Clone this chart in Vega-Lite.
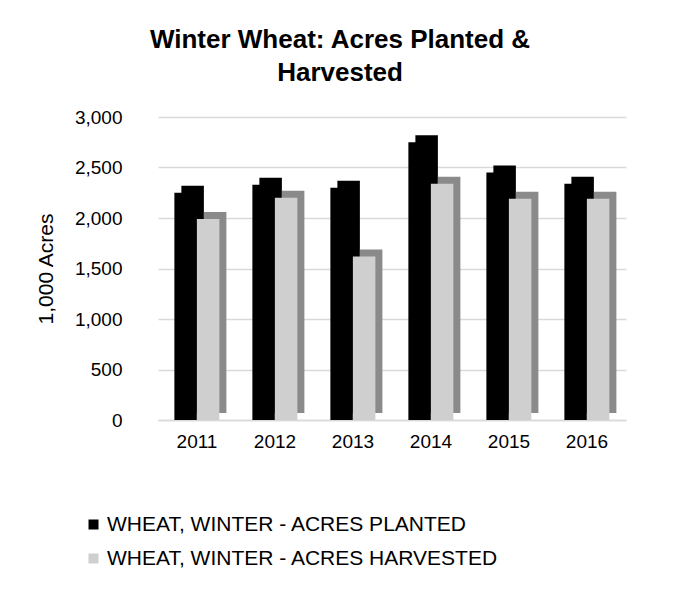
{
  "$schema": "https://vega.github.io/schema/vega-lite/v6.json",
  "autosize": "none",
  "width": 468,
  "height": 303,
  "padding": {"left": 158, "top": 117, "right": 50, "bottom": 172},
  "background": "white",
  "config": {
    "view": {"stroke": null},
    "font": "Liberation Sans"
  },
  "title": {
    "text": ["Winter Wheat: Acres Planted &", "Harvested"],
    "anchor": "middle",
    "frame": "group",
    "dx": -52,
    "offset": 22,
    "fontSize": 26,
    "fontWeight": "bold",
    "font": "Liberation Sans",
    "color": "#000000",
    "lineHeight": 33
  },
  "data": {
    "values": [
      {"year": "2011", "series": "WHEAT, WINTER - ACRES PLANTED", "acres": 2250},
      {"year": "2011", "series": "WHEAT, WINTER - ACRES HARVESTED", "acres": 1990},
      {"year": "2012", "series": "WHEAT, WINTER - ACRES PLANTED", "acres": 2330},
      {"year": "2012", "series": "WHEAT, WINTER - ACRES HARVESTED", "acres": 2200},
      {"year": "2013", "series": "WHEAT, WINTER - ACRES PLANTED", "acres": 2300},
      {"year": "2013", "series": "WHEAT, WINTER - ACRES HARVESTED", "acres": 1620},
      {"year": "2014", "series": "WHEAT, WINTER - ACRES PLANTED", "acres": 2750},
      {"year": "2014", "series": "WHEAT, WINTER - ACRES HARVESTED", "acres": 2340},
      {"year": "2015", "series": "WHEAT, WINTER - ACRES PLANTED", "acres": 2450},
      {"year": "2015", "series": "WHEAT, WINTER - ACRES HARVESTED", "acres": 2190},
      {"year": "2016", "series": "WHEAT, WINTER - ACRES PLANTED", "acres": 2340},
      {"year": "2016", "series": "WHEAT, WINTER - ACRES HARVESTED", "acres": 2190}
    ]
  },
  "encoding": {
    "x": {
      "field": "year",
      "type": "nominal",
      "scale": {"paddingInner": 0.42, "paddingOuter": 0.21},
      "axis": {
        "title": null,
        "labelAngle": 0,
        "labelFontSize": 19,
        "labelColor": "#000000",
        "labelPadding": 12,
        "ticks": false,
        "domain": true,
        "domainColor": "#d9d9d9",
        "domainWidth": 1.5
      }
    },
    "y": {
      "field": "acres",
      "type": "quantitative",
      "scale": {"domain": [0, 3000]},
      "axis": {
        "title": "1,000 Acres",
        "titleFontSize": 21,
        "titleFontWeight": "normal",
        "titleColor": "#000000",
        "titlePadding": 18,
        "values": [0, 500, 1000, 1500, 2000, 2500, 3000],
        "format": ",d",
        "labelFontSize": 19,
        "labelColor": "#000000",
        "labelPadding": 36,
        "ticks": false,
        "domain": false,
        "grid": true,
        "gridColor": "#d9d9d9",
        "gridWidth": 1.5
      }
    }
  },
  "layer": [
    {
      "mark": {"type": "bar", "yOffset": -7, "y2Offset": -7},
      "encoding": {
        "xOffset": {
          "field": "series",
          "type": "nominal",
          "sort": ["WHEAT, WINTER - ACRES PLANTED", "WHEAT, WINTER - ACRES HARVESTED"],
          "scale": {"range": [7, 52]}
        },
        "color": {
          "field": "series",
          "type": "nominal",
          "scale": {
            "domain": ["WHEAT, WINTER - ACRES PLANTED", "WHEAT, WINTER - ACRES HARVESTED"],
            "range": ["#000000", "#8a8a8a"]
          },
          "legend": null
        }
      }
    },
    {
      "mark": {"type": "bar"},
      "encoding": {
        "xOffset": {
          "field": "series",
          "type": "nominal",
          "sort": ["WHEAT, WINTER - ACRES PLANTED", "WHEAT, WINTER - ACRES HARVESTED"],
          "scale": {"range": [0, 45]}
        },
        "color": {
          "field": "series",
          "type": "nominal",
          "scale": {
            "domain": ["WHEAT, WINTER - ACRES PLANTED", "WHEAT, WINTER - ACRES HARVESTED"],
            "range": ["#000000", "#d0cfd0"]
          },
          "legend": {
            "title": null,
            "orient": "none",
            "legendX": -75,
            "legendY": 397,
            "symbolType": "square",
            "symbolSize": 100,
            "symbolStrokeWidth": 0,
            "labelFontSize": 21,
            "labelColor": "#000000",
            "labelOffset": 3,
            "rowPadding": 12,
            "labelLimit": 600
          }
        }
      }
    }
  ],
  "resolve": {"scale": {"color": "independent", "xOffset": "independent"}}
}
